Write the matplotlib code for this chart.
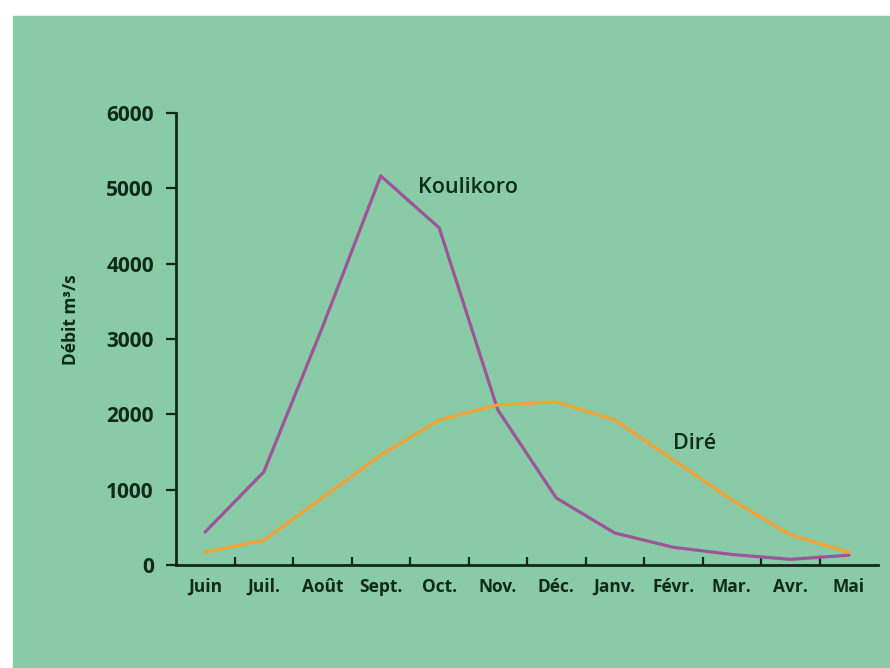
import matplotlib.pyplot as plt
from matplotlib.patches import Rectangle

# Monthly discharge of the Niger river (m3/s)
months = ['Juin', 'Juil.', 'Août', 'Sept.', 'Oct.', 'Nov.',
          'Déc.', 'Janv.', 'Févr.', 'Mar.', 'Avr.', 'Mai']
koulikoro = [440, 1235, 3150, 5165, 4475, 2060, 890, 425, 235, 140, 75, 130]
dire = [170, 330, 890, 1460, 1925, 2125, 2165, 1925, 1395, 865, 400, 170]
y_ticks = [0, 1000, 2000, 3000, 4000, 5000, 6000]

bg = '#88cba6'
ink = '#0f2a1b'
purple = '#9e5499'
orange = '#f6a235'

plt.rcParams['font.family'] = ['Open Sans', 'DejaVu Sans']

fig = plt.figure(figsize=(8.9, 6.68), dpi=100, facecolor='white')
# green page behind the chart, white strip on top and left
fig.patches.append(Rectangle((13 / 890, 0), 1, 1 - 16 / 668,
                             transform=fig.transFigure, color=bg, zorder=-10))

ax = fig.add_axes([176 / 890, 1 - 565 / 668, (878 - 176) / 890, (565 - 113) / 668])
ax.set_facecolor('none')

x = list(range(len(months)))
ax.plot(x, koulikoro, color=purple, lw=2.3)
ax.plot(x, dire, color=orange, lw=2.3)

ax.set_xlim(-0.5, 11.5)
ax.set_ylim(0, 6000)

for side in ['top', 'right']:
    ax.spines[side].set_visible(False)
for side in ['left', 'bottom']:
    ax.spines[side].set_color(ink)
    ax.spines[side].set_linewidth(2)

# x axis: small inward ticks between months, labels on the months
ax.set_xticks([i + 0.5 for i in range(len(months) - 1)])
ax.set_xticklabels([])
ax.tick_params(axis='x', which='major', direction='in', length=6, width=1.6, color=ink)
ax.set_xticks(x, minor=True)
ax.set_xticklabels(months, minor=True, fontsize=12.5, fontweight='bold', color=ink)
ax.tick_params(axis='x', which='minor', length=0, pad=9)

ax.set_yticks(y_ticks)
ax.set_yticklabels([str(v) for v in y_ticks], fontsize=15, fontweight='bold', color=ink)
ax.tick_params(axis='y', direction='out', length=7, width=1.6, color=ink, pad=9)

fig.text(71 / 890, 1 - 320 / 668, 'Débit m³/s', rotation=90, ha='center', va='center',
         fontsize=12.5, fontweight='bold', color=ink)

ax.text(3.64, 5010, 'Koulikoro', fontsize=15.5, fontweight='semibold', color=ink,
        ha='left', va='center')
ax.text(8.37, 1610, 'Diré', fontsize=15.5, fontweight='semibold', color=ink,
        ha='center', va='center')

fig.savefig('out.png', dpi=100, facecolor='white')
